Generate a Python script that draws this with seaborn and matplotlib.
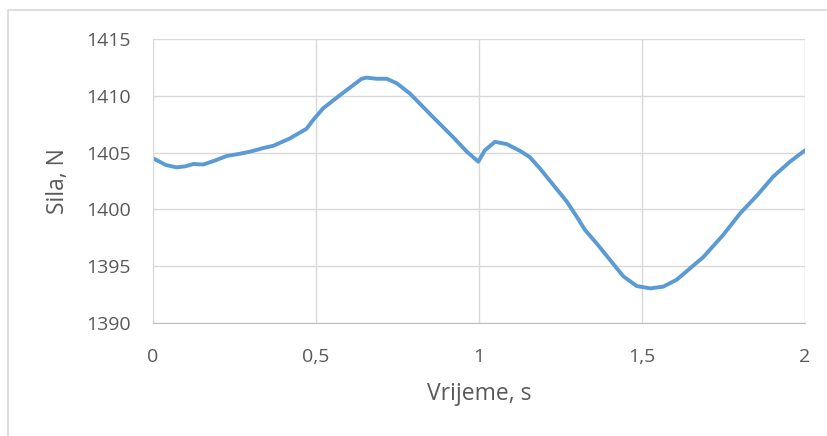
import matplotlib
matplotlib.use("Agg")
import matplotlib.pyplot as plt
import matplotlib.patches as patches
import matplotlib.ticker as mticker
import pandas as pd
import seaborn as sns

# vrijeme (s) i sila (N) ocitani sa slike
vrijeme = [0.0, 0.04, 0.073, 0.10, 0.124, 0.154, 0.19, 0.226, 0.267, 0.30, 0.338,
           0.369, 0.42, 0.471, 0.492, 0.522, 0.553, 0.594, 0.64, 0.655, 0.686,
           0.717, 0.748, 0.788, 0.829, 0.86, 0.921, 0.962, 0.998, 1.018, 1.049,
           1.085, 1.126, 1.156, 1.187, 1.228, 1.269, 1.30, 1.325, 1.361, 1.402,
           1.443, 1.484, 1.525, 1.565, 1.606, 1.647, 1.688, 1.749, 1.801, 1.852,
           1.903, 1.954, 2.0]
sila = [1404.5, 1403.9, 1403.7, 1403.8, 1404.0, 1403.95, 1404.3, 1404.7, 1404.9,
        1405.1, 1405.4, 1405.6, 1406.25, 1407.1, 1407.9, 1408.9, 1409.6, 1410.5,
        1411.5, 1411.6, 1411.5, 1411.5, 1411.1, 1410.2, 1409.0, 1408.1, 1406.35,
        1405.1, 1404.2, 1405.2, 1405.95, 1405.75, 1405.15, 1404.6, 1403.6,
        1402.15, 1400.7, 1399.35, 1398.2, 1397.0, 1395.55, 1394.1, 1393.25,
        1393.05, 1393.2, 1393.8, 1394.8, 1395.8, 1397.75, 1399.65, 1401.2,
        1402.9, 1404.2, 1405.2]

df = pd.DataFrame({"Vrijeme": vrijeme, "Sila": sila})

sns.set_style("white")
plt.rcParams["font.family"] = ["Open Sans", "DejaVu Sans"]

fig = plt.figure(figsize=(8.28, 4.36), dpi=100)
ax = fig.add_axes([153 / 828, 1 - 323 / 436, (805 - 153) / 828, (323 - 39) / 436])

# okvir grafikona
fig.patches.append(patches.Rectangle((8 / 828, -0.1), 1.2, 1 - 10 / 436 + 0.1,
                                     transform=fig.transFigure, fill=False,
                                     edgecolor="#d9d9d9", linewidth=1.2))

sns.lineplot(data=df, x="Vrijeme", y="Sila", ax=ax, color="#5b9bd5", linewidth=2.8)
for ln in ax.lines:
    ln.set_solid_joinstyle("round")
    ln.set_solid_capstyle("round")

ax.set_xlim(0, 2)
ax.set_ylim(1390, 1415)
ax.set_xticks([0, 0.5, 1, 1.5, 2])
ax.set_yticks([1390, 1395, 1400, 1405, 1410, 1415])
ax.xaxis.set_major_formatter(mticker.FuncFormatter(lambda v, p: f"{v:g}".replace(".", ",")))
ax.grid(True, color="#d9d9d9", linewidth=1.0)
ax.set_axisbelow(True)
for s in ["top", "right"]:
    ax.spines[s].set_visible(False)
ax.spines["left"].set_color("#d9d9d9")
ax.spines["bottom"].set_color("#bfbfbf")
ax.tick_params(axis="both", length=0, labelsize=14, labelcolor="#595959")
ax.tick_params(axis="x", pad=18)
ax.tick_params(axis="y", pad=15.8)

ax.set_xlabel("Vrijeme, s", fontsize=16.5, color="#595959")
ax.set_ylabel("Sila, N", fontsize=16.5, color="#595959")
ax.xaxis.set_label_coords(0.5, (323 - 394) / 284)
ax.xaxis.label.set_va("center")
ax.yaxis.set_label_coords((58 - 153) / 652, 0.5)
ax.yaxis.label.set_va("center")

fig.savefig("out.png", dpi=100)
